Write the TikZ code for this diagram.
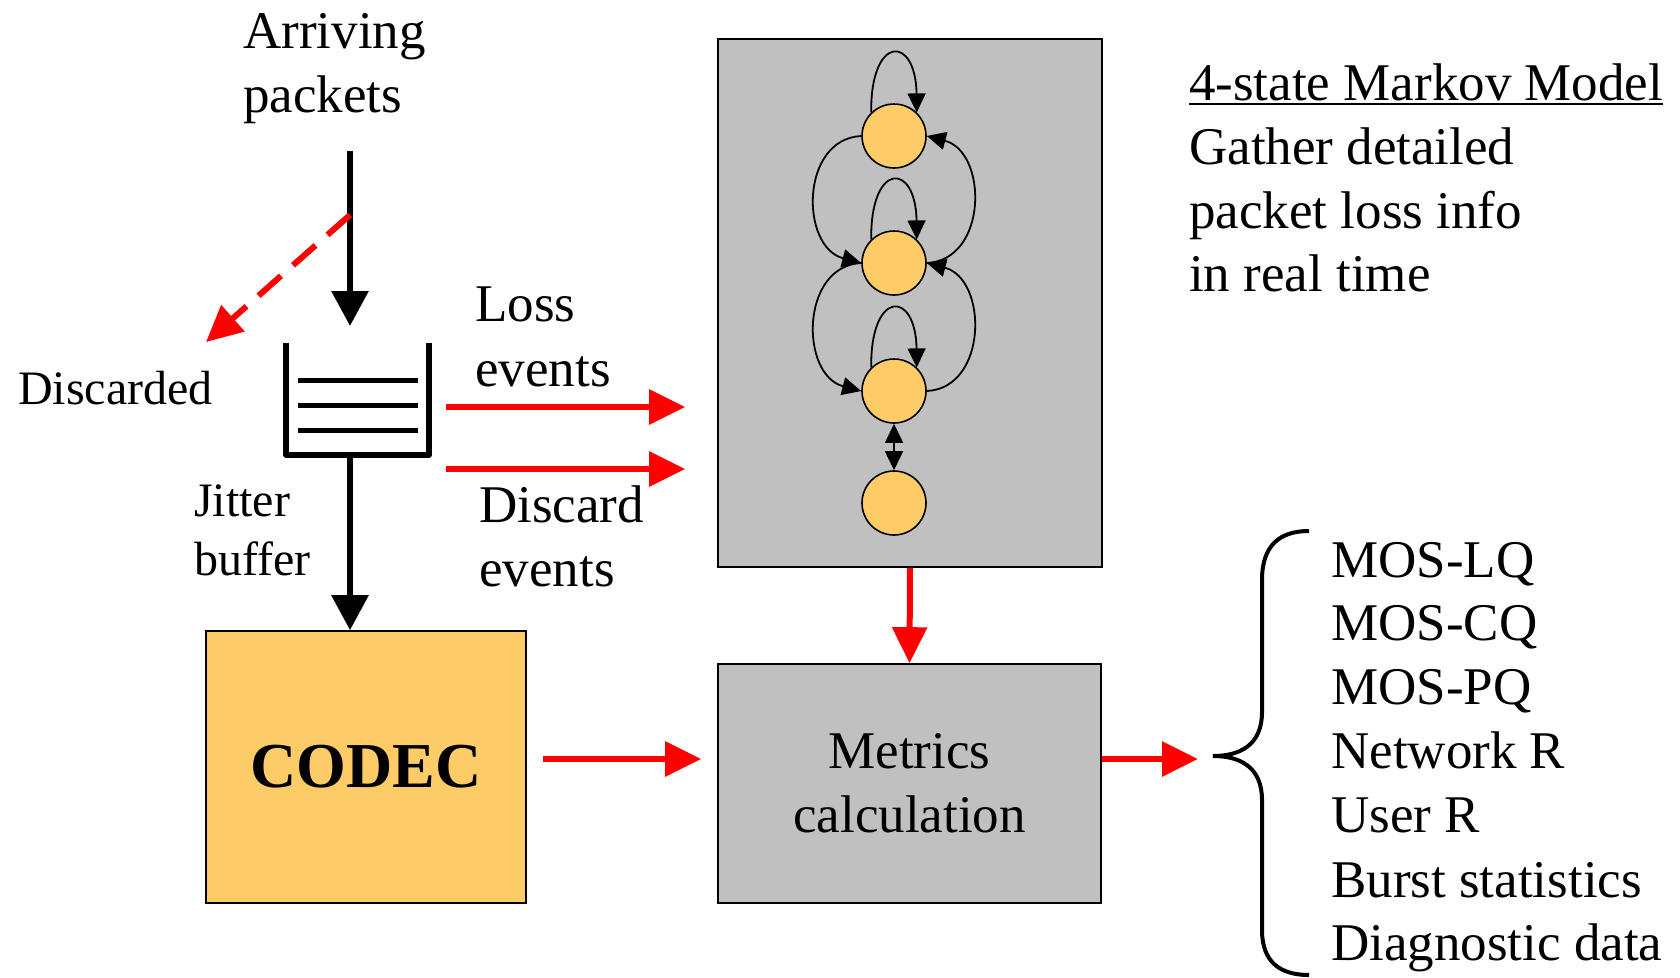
\documentclass[tikz,border=0pt]{standalone}
\usepackage{fontspec}
\setmainfont{Liberation Serif}
\usetikzlibrary{arrows.meta,calc}
\definecolor{stateor}{RGB}{253,204,102}
\definecolor{boxgray}{RGB}{192,192,192}
\begin{document}
\begin{tikzpicture}[x=1pt,y=-1pt,
  txt/.style={inner sep=0pt, anchor=base west, font=\fontsize{53}{64}\selectfont},
  smalltxt/.style={inner sep=0pt, anchor=base west, font=\fontsize{48}{58}\selectfont},
  redarr/.style={draw=red, line width=6pt, -{Triangle[length=36pt,width=34pt]}},
  blkarr/.style={draw=black, line width=6pt, -{Triangle[length=35pt,width=36pt]}},
  mk/.style={line width=1.8pt, -{Triangle[length=19pt,width=18pt]}},
  mkboth/.style={line width=1.8pt, {Triangle[length=19pt,width=18pt]}-{Triangle[length=19pt,width=18pt]}},
  state/.style={circle, draw, line width=1.6pt, fill=stateor, minimum size=64pt, inner sep=0pt},
  graybox/.style={draw, fill=boxgray, line width=1.6pt, inner sep=0pt}
]
\useasboundingbox (0,0) rectangle (1680,977);
\fill[white] (0,0) rectangle (1680,977);

% texts, left part
\node[txt] (arr1) at (243,48) {Arriving};
\node[txt] (arr2) at (243,112) {packets};
\node[smalltxt] (disc) at (18,404) {Discarded};
\node[txt] (loss1) at (475,321) {Loss};
\node[txt] (loss2) at (475,386) {events};
\node[smalltxt] (jit1) at (194,516) {Jitter};
\node[smalltxt] (jit2) at (194,575) {buffer};
\node[txt] (dis1) at (479,522) {Discard};
\node[txt] (dis2) at (479,586) {events};

% top-right texts
\node[txt] (mm) at (1189,100) {4-state Markov Model};
\draw[line width=2.5pt] ($(mm.base west)+(0,4)$) -- ($(mm.base east)+(0,4)$);
\node[txt] (g1) at (1189,164) {Gather detailed};
\node[txt] (g2) at (1189,228) {packet loss info};
\node[txt] (g3) at (1189,291) {in real time};

% result list
\node[txt] (r1) at (1331,577) {MOS-LQ};
\node[txt] (r2) at (1331,640) {MOS-CQ};
\node[txt] (r3) at (1331,704) {MOS-PQ};
\node[txt] (r4) at (1331,768) {Network R};
\node[txt] (r5) at (1331,832) {User R};
\node[txt] (r6) at (1331,897) {Burst statistics};
\node[txt] (r7) at (1331,960) {Diagnostic data};

% jitter buffer
\coordinate (intop) at (350,151);
\coordinate (split) at (350,215);
\coordinate (bufin) at (350,326);
\coordinate (discend) at (206,342);
\coordinate (bufbot) at (350,455);
\draw[line width=5.5pt, line join=round] (286,343) -- (286,455) -- (429,455) -- (429,343);
\draw[line width=5pt] (298,380) -- (418,380) (298,405) -- (418,405) (298,430) -- (418,430);
\draw[blkarr] (intop) -- (bufin);
\draw[redarr, dash pattern=on 30pt off 16pt] (split) -- (discend);

% boxes
\node[draw, fill=stateor, line width=1.6pt, inner sep=0pt, minimum width=320pt, minimum height=272pt,
      font=\fontsize{64}{70}\selectfont\bfseries] (codec) at (366,767) {CODEC};
\node[graybox, minimum width=383pt, minimum height=239pt, align=center,
      font=\fontsize{53}{64}\selectfont] (metrics) at (909.5,783.5) {Metrics\\calculation};
\node[graybox, minimum width=384pt, minimum height=528pt] (markov) at (910,303) {};

\draw[blkarr] (bufbot) -- (bufbot |- codec.north);

% Markov chain
\node[state] (s1) at (894,136) {};
\node[state] (s2) at (894,263) {};
\node[state] (s3) at (894,391) {};
\node[state] (s4) at (894,503) {};
\foreach \s in {s1,s2,s3}{
  \draw[mk] (\s.134) .. controls +(-1,-78) and +(-1,-78) .. (\s.46);
}
\draw[mk] (s1.west) .. controls (800,139) and (800,247) .. (s2.west);
\draw[mk] (s2.east) .. controls (988,260) and (988,152) .. (s1.east);
\draw[mk] (s2.west) .. controls (800,266) and (800,375) .. (s3.west);
\draw[mk] (s3.east) .. controls (988,388) and (988,279) .. (s2.east);
\draw[mkboth] (s3.south) -- (s4.north);

% red arrows
\coordinate (l0) at (446,407);
\coordinate (d0) at (446,469);
\draw[redarr, shorten >=32pt] (l0) -- (l0 -| markov.west);
\draw[redarr, shorten >=32pt] (d0) -- (d0 -| markov.west);
\draw[redarr] (markov.south) -- (metrics.north);
\coordinate (cm) at (0,759);
\coordinate (btip) at (1213,756);
\draw[redarr, shorten <=16pt, shorten >=16pt] (codec.east |- cm) -- (metrics.west |- cm);
\draw[redarr, shorten >=15pt] (metrics.east |- cm) -- (btip |- cm);

% brace
\draw[line width=4pt] (1309,531) .. controls (1280,531) and (1262,545) .. (1262,580)
  -- (1262,712) .. controls (1262,745) and (1240,756) .. (btip)
  .. controls (1240,756) and (1262,767) .. (1262,800)
  -- (1262,930) .. controls (1262,962) and (1280,975) .. (1309,975);
\end{tikzpicture}
\end{document}
